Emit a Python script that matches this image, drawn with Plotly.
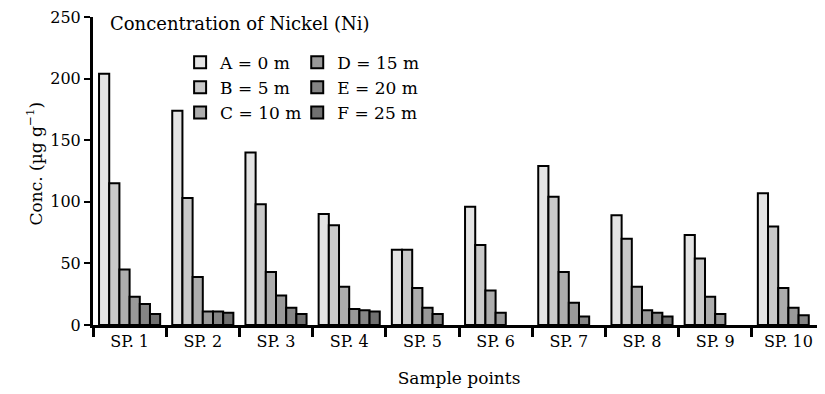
import plotly.graph_objects as go

categories = ["SP. 1", "SP. 2", "SP. 3", "SP. 4", "SP. 5", "SP. 6", "SP. 7", "SP. 8", "SP. 9", "SP. 10"]
series_names = ["A = 0 m", "B = 5 m", "C = 10 m", "D = 15 m", "E = 20 m", "F = 25 m"]
A = [204, 174, 140, 90, 61, 96, 129, 89, 73, 107]
B = [115, 103, 98, 81, 61, 65, 104, 70, 54, 80]
C = [45, 39, 43, 31, 30, 28, 43, 31, 23, 30]
D = [23, 11, 24, 13, 14, 10, 18, 12, 9, 14]
E = [17, 11, 14, 12, 9, None, 7, 10, None, 8]
F = [9, 10, 9, 11, None, None, None, 7, None, None]
series_values = [A, B, C, D, E, F]
colors = ["#e4e4e4", "#c9c9c9", "#adadad", "#999999", "#858585", "#707070"]
legend_ids = ["legend", "legend", "legend", "legend2", "legend2", "legend2"]

FONT = "DejaVu Serif"

fig = go.Figure()
for name, vals, col, lg in zip(series_names, series_values, colors, legend_ids):
    fig.add_trace(go.Bar(
        x=categories, y=vals, name=name, legend=lg,
        marker=dict(color=col, line=dict(color="black", width=2)),
    ))

legend_common = dict(
    bgcolor="rgba(0,0,0,0)", font=dict(family=FONT, size=17, color="black"),
    yanchor="top", xanchor="left", itemwidth=30, tracegroupgap=0,
)
# page body has an 8px margin, so the figure is 8px smaller than the window
fig.update_layout(
    width=817, height=386,
    margin=dict(l=85, r=0, t=9, b=69),
    paper_bgcolor="white", plot_bgcolor="white",
    barmode="group", bargap=0.165, bargroupgap=0,
    font=dict(family=FONT, size=16, color="black"),
    legend=dict(x=0.119, y=0.91, **legend_common),
    legend2=dict(x=0.279, y=0.91, **legend_common),
    xaxis=dict(
        automargin=False,
        showline=True, linecolor="black", linewidth=3,
        ticks="outside", tickson="boundaries", ticklen=9, tickwidth=3, tickcolor="black",
        tickfont=dict(family=FONT, size=16), showgrid=False,
        title=dict(text="Sample points", font=dict(family=FONT, size=17), standoff=22),
    ),
    yaxis=dict(
        automargin=False, ticklabeloverflow="allow",
        range=[0, 250], tickvals=[0, 50, 100, 150, 200, 250],
        showline=True, linecolor="black", linewidth=3,
        ticks="outside", ticklen=6, tickwidth=2, tickcolor="black",
        tickfont=dict(family=FONT, size=16), showgrid=False, zeroline=False,
    ),
    annotations=[
        dict(
            text="Concentration of Nickel (Ni)", xref="paper", yref="paper",
            x=0.02, y=0.98, xanchor="left", yanchor="middle", showarrow=False,
            font=dict(family=FONT, size=18, color="black"),
        ),
        dict(
            text="Conc. (µg g<sup>−1</sup>)", xref="paper", yref="paper",
            x=-0.08, y=0.526, xanchor="center", yanchor="middle", showarrow=False,
            textangle=-90, font=dict(family=FONT, size=17, color="black"),
        ),
    ],
)

fig.write_html("out.html")
